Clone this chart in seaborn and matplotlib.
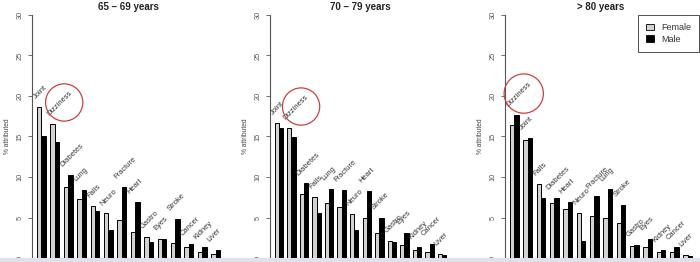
import numpy as np
import pandas as pd
import matplotlib
matplotlib.use("Agg")
import matplotlib.pyplot as plt
import seaborn as sns
from matplotlib.patches import Patch, Rectangle
from matplotlib.transforms import offset_copy

sns.set_style("white")
plt.rcParams['font.family'] = ['Liberation Sans', 'DejaVu Sans']

titles = ["65 \u2013 69 years", "70 \u2013 79 years", "> 80 years"]

causes_1 = ["Joint", "Dizziness", "Diabetes", "Lung", "Falls", "Neuro", "Fracture",
            "Heart", "Gastro", "Eyes", "Stroke", "Cancer", "Kidney", "Liver"]
female_1 = [18.6, 16.6, 8.75, 7.3, 6.4, 5.5, 4.7, 3.25, 2.6, 2.4, 1.9, 1.3, 0.75, 0.55]
male_1 = [15.1, 14.3, 10.2, 8.4, 5.8, 3.5, 8.75, 6.95, 2.0, 2.4, 4.8, 1.7, 1.35, 0.95]

causes_2 = ["Joint", "Dizziness", "Diabetes", "Falls", "Lung", "Fracture", "Neuro",
            "Heart", "Stroke", "Gastro", "Eyes", "Kidney", "Cancer", "Liver"]
female_2 = [16.7, 16.1, 7.9, 7.55, 6.85, 6.3, 5.4, 4.9, 3.1, 2.15, 1.55, 1.0, 0.8, 0.55]
male_2 = [16.1, 14.9, 9.2, 5.6, 8.55, 8.4, 3.5, 8.25, 5.0, 2.0, 3.1, 1.35, 1.7, 0.4]

causes_3 = ["Dizziness", "Joint", "Falls", "Diabetes", "Heart", "Neuro", "Fracture",
            "Lung", "Stroke", "Gastro", "Eyes", "Kidney", "Cancer", "Liver"]
female_3 = [16.45, 14.6, 9.15, 6.8, 6.05, 5.55, 5.15, 4.95, 4.3, 1.5, 1.4, 0.8, 0.7, 0.35]
male_3 = [17.7, 14.8, 7.4, 7.4, 6.9, 2.05, 7.6, 8.5, 6.55, 1.65, 2.35, 0.95, 1.3, 0.3]

panels = [(causes_1, female_1, male_1), (causes_2, female_2, male_2), (causes_3, female_3, male_3)]
highlight = "Dizziness"

W, H = 700, 262
fig = plt.figure(figsize=(7.0, 2.62), dpi=100)

# axes placement in pixels: (left, width)
axes_px = [(32, 193), (270, 181), (505, 192)]
y0_px, y30_px = 258, 15

female_col = "#d2d2d2"
male_col = "#000000"
bw = 0.667

for i, ((causes, fem, mal), (lx, wx)) in enumerate(zip(panels, axes_px)):
    ax = fig.add_axes([lx / W, (H - y0_px) / H, wx / W, (y0_px - y30_px) / H])
    df = pd.DataFrame({
        "cause": causes * 2,
        "pct": list(fem) + list(mal),
        "sex": ["Female"] * len(causes) + ["Male"] * len(causes),
    })
    sns.barplot(data=df, x="cause", y="pct", hue="sex", order=causes,
                hue_order=["Female", "Male"],
                palette={"Female": female_col, "Male": male_col},
                edgecolor="black", linewidth=0.7, width=bw, gap=0,
                errorbar=None, ax=ax, legend=False)
    ax.set_xlim(-0.7, len(causes) - 1 + 0.7)
    ax.set_ylim(0, 30)
    ax.set_xticks([])
    ax.set_xlabel("")
    ax.set_yticks([0, 5, 10, 15, 20, 25, 30])
    ax.set_yticklabels(["0", "5", "10", "15", "20", "25", "30"], rotation=90,
                       va="center", fontsize=5.3, color="#555555")
    ax.tick_params(axis="y", length=3, width=0.6, color="#555555", pad=3, left=True)
    for s in ["top", "right", "bottom"]:
        ax.spines[s].set_visible(False)
    ax.spines["left"].set_color("#555555")
    ax.spines["left"].set_linewidth(0.8)
    ax.set_ylabel("% attributed", fontsize=4.8, color="#444444", labelpad=4)
    ax.set_title(titles[i], fontsize=7, fontweight="bold", color="#222222", pad=3.5)
    ax.patch.set_alpha(0)

    for j, c in enumerate(causes):
        top = max(fem[j], mal[j])
        ax.text(j - bw / 2, top + 0.8, c, rotation=45, rotation_mode="anchor",
                ha="left", va="bottom", fontsize=5.4, color="#333333")
        if c == highlight:
            tr = offset_copy(ax.transData, fig=fig, x=10.0, y=10.5, units="points")
            ax.scatter([j - bw / 2], [top + 0.8], s=720 if i < 2 else 800,
                       facecolors="none", edgecolors="#cc4040", linewidths=0.9,
                       transform=tr, clip_on=False, zorder=5)

handles = [Patch(facecolor=female_col, edgecolor="black", linewidth=0.6, label="Female"),
           Patch(facecolor=male_col, edgecolor="black", linewidth=0.6, label="Male")]
leg = fig.legend(handles=handles, loc="upper right", bbox_to_anchor=(699 / W, 1 - 15 / H),
                 frameon=True, fancybox=False, fontsize=6.5, handlelength=0.8,
                 handleheight=0.8, handletextpad=0.8, borderpad=0.9, labelspacing=0.3,
                 borderaxespad=0)
leg.get_frame().set_edgecolor("#222222")
leg.get_frame().set_linewidth(0.7)
for t in leg.get_texts():
    t.set_color("#333333")

# screenshot band at the bottom
fig.patches.append(Rectangle((0, 0), 1, 4 / H, transform=fig.transFigure,
                             facecolor="#dbe4ec", edgecolor="none", zorder=10))

fig.savefig("out.png", dpi=100)
